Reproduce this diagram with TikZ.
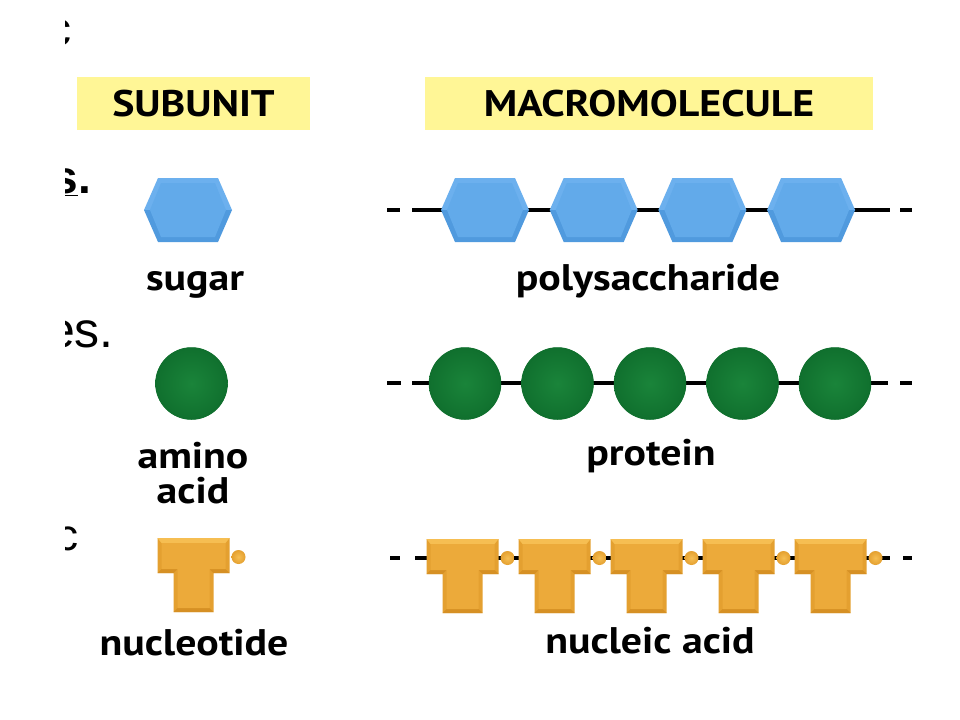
\documentclass[tikz,border=0pt]{standalone}
\usepackage{fontspec}
\setmainfont{PT Sans}[FakeStretch=1.13]
\newfontfamily\cutfont{Liberation Sans}
\usetikzlibrary{positioning}
\definecolor{headyellow}{RGB}{255,246,150}
\definecolor{sugarlight}{RGB}{108,176,238}
\definecolor{sugarface}{RGB}{98,170,234}
\definecolor{sugardark}{RGB}{80,154,222}
\definecolor{aminoin}{RGB}{26,132,58}
\definecolor{aminoout}{RGB}{16,112,46}
\definecolor{ntlight}{RGB}{246,190,82}
\definecolor{ntface}{RGB}{236,170,58}
\definecolor{ntside}{RGB}{228,160,48}
\definecolor{ntdark}{RGB}{214,144,36}

\tikzset{
    headbox/.style={fill=headyellow, inner sep=0pt, minimum height=53bp,
        font=\fontsize{37bp}{37bp}\selectfont\bfseries},
    molname/.style={inner sep=0pt, anchor=base, align=center,
        font=\fontsize{37bp}{35bp}\selectfont\bfseries},
    cuttext/.style={inner sep=0pt, anchor=base east, font=\fontsize{48bp}{48bp}\cutfont},
    backbone/.style={line width=4.5bp, black},
    sugar/.pic={
        \fill[sugarlight] (-44,0) -- (-30,-32) -- (30,-32) -- (44,0) -- cycle;
        \fill[sugardark] (-44,0) -- (44,0) -- (30,32) -- (-30,32) -- cycle;
        \fill[sugarface] (-38,0) -- (-27,-27) -- (27,-27) -- (38,0) -- (27,27) -- (-27,27) -- cycle;
        \coordinate (-c) at (0,0);
    },
    amino/.pic={
        \shade[inner color=aminoin, outer color=aminoout] (0,0) circle[radius=36];
        \draw[aminoout, line width=1.5bp] (0,0) circle[radius=35.5];
        \coordinate (-c) at (0,0);
    },
    nucleotide/.pic={
        \fill[ntside] (-36,0) -- (36,0) -- (36,35) -- (20,35) -- (20,74) -- (-20,74) -- (-20,35) -- (-36,35) -- cycle;
        \fill[ntlight] (-36,0) -- (36,0) -- (32,5) -- (-32,5) -- cycle;
        \fill[ntdark] (-36,35) -- (-20,35) -- (-16,31) -- (-32,31) -- cycle;
        \fill[ntdark] (36,35) -- (20,35) -- (16,31) -- (32,31) -- cycle;
        \fill[ntdark] (-20,74) -- (20,74) -- (16,70) -- (-16,70) -- cycle;
        \fill[ntface] (-32,5) -- (32,5) -- (32,31) -- (16,31) -- (16,70) -- (-16,70) -- (-16,31) -- (-32,31) -- cycle;
        \shade[inner color=ntlight, outer color=ntside] (45,19) circle[radius=7];
        \coordinate (-c) at (0,0);
    }
}

\begin{document}
\begin{tikzpicture}[x=1bp, y=-1bp]
    \useasboundingbox[fill=white] (0,0) rectangle (960,720);

    % clipped text from the left edge
    \begin{scope}
        \clip (65,0) rectangle (140,720);
        \node[cuttext] (cut1) at (72,46) {c};
        \node[cuttext, font=\fontsize{46bp}{46bp}\cutfont\bfseries] (cut2) at (91,193) {\underline{s}.};
        \node[cuttext, font=\fontsize{50bp}{50bp}\cutfont] (cut3) at (114,347) {es.};
        \node[cuttext, font=\fontsize{44bp}{44bp}\cutfont] (cut4) at (79,550) {c};
    \end{scope}

    % headers
    \node[headbox, minimum width=233bp] (subhead) at (193.5,103.5) {SUBUNIT};
    \node[headbox, minimum width=448bp] (macrohead) at (649,103.5) {MACROMOLECULE};

    % subunits
    \pic (sug) at (188,210) {sugar};
    \pic (ami) at (191.5,383.5) {amino};
    \pic (nuc) at (193.5,538) {nucleotide};
    \node[molname] (sugname) at (195,290) {sugar};
    \node[molname, anchor=center] (aminame) at (193,473) {amino\\acid};
    \node[molname] (nucname) at (194,655) {nucleotide};

    % polysaccharide
    \coordinate (ps-l0) at (387,210);
    \coordinate (ps-l1) at (400,210);
    \coordinate (ps-l2) at (412,210);
    \coordinate (ps-r2) at (890,210);
    \coordinate (ps-r1) at (900,210);
    \coordinate (ps-r0) at (912,210);
    \draw[backbone] (ps-l0) -- (ps-l1) (ps-l2) -- (ps-r2) (ps-r1) -- (ps-r0);
    \foreach \i in {0,...,3}
        \pic (ps\i) at ({485+108.7*\i},210) {sugar};
    \node[molname] (psname) at (648,290) {polysaccharide};

    % protein
    \coordinate (pr-l0) at (387,383);
    \coordinate (pr-l1) at (401,383);
    \coordinate (pr-l2) at (412,383);
    \coordinate (pr-r2) at (888,383);
    \coordinate (pr-r1) at (900,383);
    \coordinate (pr-r0) at (912,383);
    \draw[backbone, line width=4bp] (pr-l0) -- (pr-l1) (pr-l2) -- (pr-r2) (pr-r1) -- (pr-r0);
    \foreach \i in {0,...,4}
        \pic (pr\i) at ({465+92.5*\i},383.5) {amino};
    \node[molname] (prname) at (651,465) {protein};

    % nucleic acid
    \coordinate (na-l0) at (390,558);
    \coordinate (na-l1) at (400,558);
    \coordinate (na-l2) at (415,558);
    \coordinate (na-r2) at (890,558);
    \coordinate (na-r1) at (903,558);
    \coordinate (na-r0) at (912,558);
    \draw[backbone, line width=3.5bp] (na-l0) -- (na-l1) (na-l2) -- (na-r2) (na-r1) -- (na-r0);
    \foreach \i in {0,...,4}
        \pic (na\i) at ({462.5+92*\i},539) {nucleotide};
    \node[molname] (naname) at (650,653) {nucleic acid};
\end{tikzpicture}
\end{document}
